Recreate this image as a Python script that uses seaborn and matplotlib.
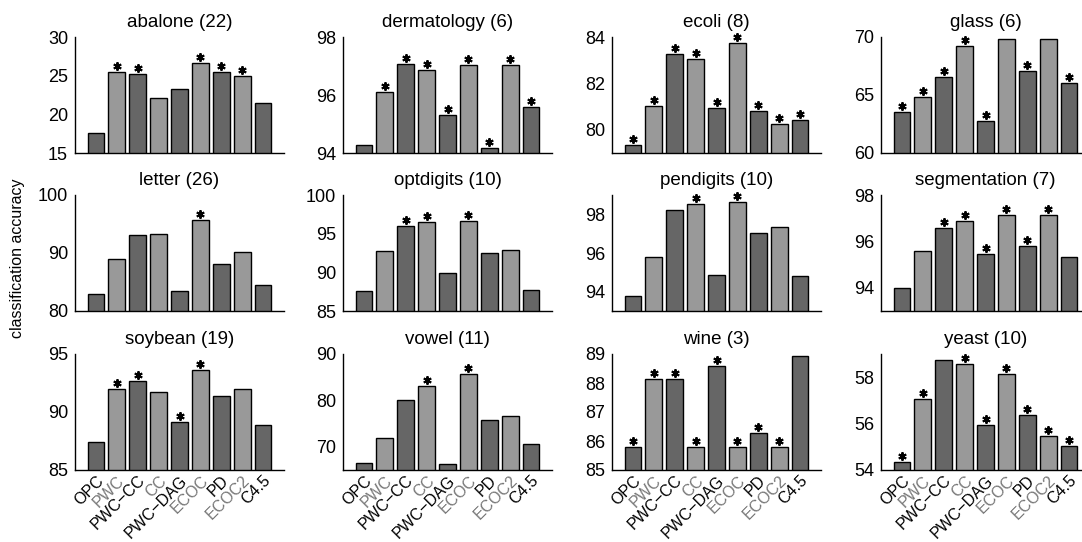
import numpy as np
import pandas as pd
import matplotlib
matplotlib.use('Agg')
from matplotlib import pyplot as plt
from matplotlib.transforms import offset_copy
import seaborn as sns

# methods on the x axis
methods = ['OPC', 'PWC', 'PWC−CC', 'CC', 'PWC−DAG', 'ECOC', 'PD', 'ECOC2', 'C4.5']

titles = ['abalone (22)', 'dermatology (6)', 'ecoli (8)', 'glass (6)',
          'letter (26)', 'optdigits (10)', 'pendigits (10)', 'segmentation (7)',
          'soybean (19)', 'vowel (11)', 'wine (3)', 'yeast (10)']

# accuracies
abalone = [17.6, 25.5, 25.2, 22.1, 23.3, 26.6, 25.45, 24.9, 21.5]
dermatology = [94.27, 96.12, 97.08, 96.87, 95.30, 97.04, 94.17, 97.04, 95.58]
ecoli = [79.35, 81.01, 83.26, 83.06, 80.96, 83.74, 80.8, 80.25, 80.42]
glass = [63.5, 64.84, 66.58, 69.19, 62.75, 69.83, 67.04, 69.83, 66.06]
letter = [82.98, 89.05, 93.07, 93.35, 83.44, 95.64, 88.08, 90.2, 84.41]
optdigits = [87.54, 92.78, 96.05, 96.48, 89.9, 96.69, 92.44, 92.95, 87.71]
pendigits = [93.78, 95.79, 98.24, 98.55, 94.85, 98.63, 97.04, 97.33, 94.82]
segmentation = [93.97, 95.58, 96.57, 96.88, 95.45, 97.15, 95.82, 97.15, 95.33]
soybean = [87.42, 91.97, 92.64, 91.71, 89.15, 93.59, 91.34, 91.97, 88.86]
vowel = [66.55, 71.94, 80.0, 83.09, 66.4, 85.61, 75.76, 76.55, 70.5]
wine = [85.8, 88.15, 88.15, 85.8, 88.6, 85.8, 86.27, 85.8, 88.93]
yeast = [54.36, 57.06, 58.76, 58.55, 55.96, 58.12, 56.35, 55.48, 55.02]

# 1 = marked with * (significant difference)
abalone_sig = [0, 1, 1, 0, 0, 1, 1, 1, 0]
dermatology_sig = [0, 1, 1, 1, 1, 1, 1, 1, 1]
ecoli_sig = [1, 1, 1, 1, 1, 1, 1, 1, 1]
glass_sig = [1, 1, 1, 1, 1, 0, 1, 0, 1]
letter_sig = [0, 0, 0, 0, 0, 1, 0, 0, 0]
optdigits_sig = [0, 0, 1, 1, 0, 1, 0, 0, 0]
pendigits_sig = [0, 0, 0, 1, 0, 1, 0, 0, 0]
segmentation_sig = [0, 0, 1, 1, 1, 1, 1, 1, 0]
soybean_sig = [0, 1, 1, 0, 1, 1, 0, 0, 0]
vowel_sig = [0, 0, 0, 1, 0, 1, 0, 0, 0]
wine_sig = [1, 1, 1, 1, 1, 1, 1, 1, 0]
yeast_sig = [1, 1, 0, 1, 1, 1, 1, 1, 1]

ylims = [(15, 30), (94, 98), (79, 84), (60, 70),
         (80, 100), (85, 100), (93, 99), (93, 98),
         (85, 95), (65, 90), (85, 89), (54, 59)]
yticks = [[15, 20, 25, 30], [94, 96, 98], [80, 82, 84], [60, 65, 70],
          [80, 90, 100], [85, 90, 95, 100], [94, 96, 98], [94, 96, 98],
          [85, 90, 95], [70, 80, 90], [85, 86, 87, 88, 89], [54, 56, 58]]

values = [abalone, dermatology, ecoli, glass, letter, optdigits,
          pendigits, segmentation, soybean, vowel, wine, yeast]
sigs = [abalone_sig, dermatology_sig, ecoli_sig, glass_sig, letter_sig, optdigits_sig,
        pendigits_sig, segmentation_sig, soybean_sig, vowel_sig, wine_sig, yeast_sig]

dark, light = '#666666', '#999999'
bar_colors = {m: (dark if i % 2 == 0 else light) for i, m in enumerate(methods)}
label_colors = ['black' if i % 2 == 0 else '#777777' for i in range(len(methods))]

sns.set_style('white')
plt.rcParams['font.family'] = ['Liberation Sans', 'DejaVu Sans']
plt.rcParams['text.color'] = 'black'
plt.rcParams['axes.labelcolor'] = 'black'
plt.rcParams['xtick.color'] = 'black'
plt.rcParams['ytick.color'] = 'black'

W, H = 1082, 542
lefts = [75, 343, 612, 881]
tops = [37, 195, 354]
aw, ah = 209, 116

fig = plt.figure(figsize=(W / 100, H / 100), dpi=100)

for i in range(12):
    r, c = divmod(i, 4)
    ax = fig.add_axes([lefts[c] / W, 1 - (tops[r] + ah) / H, aw / W, ah / H])
    df = pd.DataFrame({'method': methods, 'acc': values[i]})
    sns.barplot(data=df, x='method', y='acc', hue='method', order=methods,
                palette=bar_colors, legend=False, ax=ax, width=0.8,
                saturation=1, edgecolor='black', linewidth=1)

    # asterisks above significant bars
    sig = np.array(sigs[i], dtype=bool)
    xs = np.arange(len(methods))[sig]
    ys = np.array(values[i])[sig]
    tr = offset_copy(ax.transData, fig=fig, x=0, y=6, units='dots')
    ax.plot(xs, ys, linestyle='none', marker=(6, 2, 0), ms=6, mew=1.4,
            color='black', transform=tr, clip_on=False)

    ax.set_xlim(-1, 9)
    ax.set_ylim(*ylims[i])
    ax.set_yticks(yticks[i])
    ax.set_title(titles[i], fontsize=13.5, pad=7, color='black')
    ax.set_xlabel('')
    ax.set_ylabel('')
    sns.despine(ax=ax)
    for s in ['left', 'bottom']:
        ax.spines[s].set_color('black')
        ax.spines[s].set_linewidth(1)
    ax.tick_params(axis='y', direction='in', length=2.5, labelsize=13, pad=5,
                   colors='black')
    ax.tick_params(axis='x', length=0, labelsize=11.5, pad=2)
    if r == 2:
        ax.set_xticks(range(len(methods)))
        ax.set_xticklabels(methods, rotation=45, ha='right', rotation_mode='anchor')
        for lbl, col in zip(ax.get_xticklabels(), label_colors):
            lbl.set_color(col)
    else:
        ax.set_xticklabels([])

fig.text(18 / W, 1 - 258 / H, 'classification accuracy', rotation=90,
         ha='center', va='center', fontsize=11.5, color='black')

plt.savefig('out.png', dpi=100)
